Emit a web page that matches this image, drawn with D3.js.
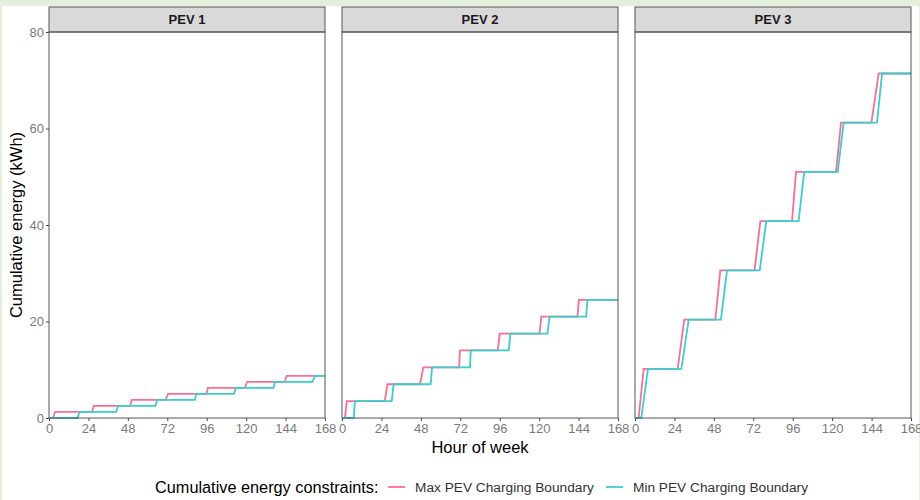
<!DOCTYPE html>
<html>
<head>
<meta charset="utf-8">
<script src="https://cdn.jsdelivr.net/npm/d3@7"></script>
<style>
  body { margin: 0; background: #e4efdb; }
  svg { display: block; }
  svg text { font-family: "Liberation Sans", Arial, sans-serif; }
</style>
</head>
<body>
<div id="chart"></div>
<script>
// panel names and x ticks
var panelNames = ["PEV 1", "PEV 2", "PEV 3"];
var hourTicks = [0, 24, 48, 72, 96, 120, 144, 168];
var energyTicks = [0, 20, 40, 60, 80];
var seriesNames = ["Max PEV Charging Boundary", "Min PEV Charging Boundary"];

// breakpoints (hour of week, cumulative kWh)
var pev1MaxHours = [0, 2.4, 3.7, 26.1, 27.3, 49.3, 50.5, 70.9, 72.5, 95.9, 96.7, 119.3, 120.6, 143.6, 144.6, 168];
var pev1MinHours = [0, 17.5, 18.5, 40.9, 42, 64.8, 65.8, 88.8, 89.6, 112.6, 113.7, 136.7, 137.5, 160.5, 161.7, 168];
var pev1Energy = [0, 0, 1.25, 1.25, 2.5, 2.5, 3.75, 3.75, 5, 5, 6.25, 6.25, 7.5, 7.5, 8.75, 8.75];

var pev2MaxHours = [0, 1.8, 2.9, 26, 27.7, 47.5, 49.5, 71.3, 71.8, 94.8, 96, 120.3, 121.3, 143.3, 144.2, 168];
var pev2MinHours = [0, 7.1, 7.9, 30.3, 31.4, 54, 54.8, 77.9, 78.4, 101.5, 102.5, 125.1, 126.3, 148.6, 149.4, 168];
var pev2Energy = [0, 0, 3.5, 3.5, 7, 7, 10.5, 10.5, 14, 14, 17.5, 17.5, 21, 21, 24.5, 24.5];

var pev3MaxHours = [0, 2.2, 5.3, 26, 30, 48.9, 51.9, 72.8, 76.3, 95.6, 98, 122.4, 125.4, 143.9, 148.3, 168];
var pev3MinHours = [0, 3.8, 7.9, 28.2, 32.7, 52.3, 56, 75.9, 79.9, 99.6, 103, 123.4, 127, 147.3, 150.4, 168];
var pev3Energy = [0, 0, 10.2, 10.2, 20.4, 20.4, 30.6, 30.6, 40.8, 40.8, 51, 51, 61.2, 61.2, 71.4, 71.4];

var maxHours = [pev1MaxHours, pev2MaxHours, pev3MaxHours];
var minHours = [pev1MinHours, pev2MinHours, pev3MinHours];
var energies = [pev1Energy, pev2Energy, pev3Energy];

var colors = ["#ff6b94", "#38cfd0"];

var svgWidth = 920;
var svgHeight = 500;

var panelLeft = 49;
var panelWidth = 276;
var panelGap = 17;
var stripTop = 7;
var panelTop = 32;
var panelBottom = 418;

var svg = d3.select("#chart")
  .append("svg")
  .attr("width", svgWidth)
  .attr("height", svgHeight);

// white plot background with a thin green frame round it
svg.append("rect")
  .attr("x", 2)
  .attr("y", 6)
  .attr("width", 917)
  .attr("height", 494)
  .attr("fill", "#ffffff");

var yScale = d3.scaleLinear()
  .domain([0, 80])
  .range([panelBottom, panelTop]);

panelNames.forEach(function(name, i) {
  var x0 = panelLeft + i * (panelWidth + panelGap);
  var xScale = d3.scaleLinear()
    .domain([0, 168])
    .range([x0, x0 + panelWidth]);

  // strip
  svg.append("rect")
    .attr("x", x0)
    .attr("y", stripTop)
    .attr("width", panelWidth)
    .attr("height", panelTop - stripTop)
    .attr("fill", "#d9d9d9")
    .attr("stroke", "#555")
    .attr("stroke-width", 1);

  svg.append("text")
    .attr("x", x0 + panelWidth / 2)
    .attr("y", (stripTop + panelTop) / 2)
    .attr("text-anchor", "middle")
    .attr("dominant-baseline", "central")
    .attr("font-size", "13px")
    .attr("font-weight", "bold")
    .attr("fill", "#1a1a1a")
    .text(name);

  // x axis
  svg.append("g")
    .attr("transform", `translate(0, ${panelBottom})`)
    .call(d3.axisBottom(xScale).tickValues(hourTicks).tickSize(3).tickPadding(3))
    .attr("font-family", null)
    .call(g => g.select(".domain").remove())
    .call(g => g.selectAll("line").attr("stroke", "#444"))
    .call(g => g.selectAll("text").attr("fill", "#7a7a7a").attr("font-size", "13px"));

  // y axis only on first panel
  if (i === 0) {
    svg.append("g")
      .attr("transform", `translate(${x0}, 0)`)
      .call(d3.axisLeft(yScale).tickValues(energyTicks).tickSize(3).tickPadding(2))
      .attr("font-family", null)
      .call(g => g.select(".domain").remove())
      .call(g => g.selectAll("line").attr("stroke", "#444"))
      .call(g => g.selectAll("text").attr("fill", "#7a7a7a").attr("font-size", "13px"));
  }

  var line = d3.line()
    .x(d => xScale(d[0]))
    .y(d => yScale(d[1]));

  var maxPts = d3.zip(maxHours[i], energies[i]);
  var minPts = d3.zip(minHours[i], energies[i]);

  svg.append("path")
    .datum(maxPts)
    .attr("d", line)
    .attr("fill", "none")
    .attr("stroke", colors[0])
    .attr("stroke-width", 1.8);

  svg.append("path")
    .datum(minPts)
    .attr("d", line)
    .attr("fill", "none")
    .attr("stroke", colors[1])
    .attr("stroke-width", 1.8);

  // panel border
  svg.append("rect")
    .attr("x", x0)
    .attr("y", panelTop)
    .attr("width", panelWidth)
    .attr("height", panelBottom - panelTop)
    .attr("fill", "none")
    .attr("stroke", "#555")
    .attr("stroke-width", 1);
});

// axis titles
svg.append("text")
  .attr("transform", `translate(22, ${(panelTop + panelBottom) / 2}) rotate(-90)`)
  .attr("text-anchor", "middle")
  .attr("font-size", "16.5px")
  .attr("fill", "#000")
  .text("Cumulative energy (kWh)");

svg.append("text")
  .attr("x", (panelLeft + panelLeft + 3 * panelWidth + 2 * panelGap) / 2)
  .attr("y", 453)
  .attr("text-anchor", "middle")
  .attr("font-size", "16.5px")
  .attr("fill", "#000")
  .text("Hour of week");

// legend
var legend = svg.append("g")
  .attr("transform", "translate(0, 487)");

legend.append("text")
  .attr("x", 155)
  .attr("y", 6)
  .attr("font-size", "16.3px")
  .attr("fill", "#000")
  .text("Cumulative energy constraints:");

var keyX = [388, 606];
seriesNames.forEach(function(s, j) {
  legend.append("line")
    .attr("x1", keyX[j])
    .attr("x2", keyX[j] + 17)
    .attr("y1", 0)
    .attr("y2", 0)
    .attr("stroke", colors[j])
    .attr("stroke-width", 1.8);
  legend.append("text")
    .attr("x", keyX[j] + 27)
    .attr("y", 5)
    .attr("font-size", "13.7px")
    .attr("fill", "#333")
    .text(s);
});
</script>
</body>
</html>
